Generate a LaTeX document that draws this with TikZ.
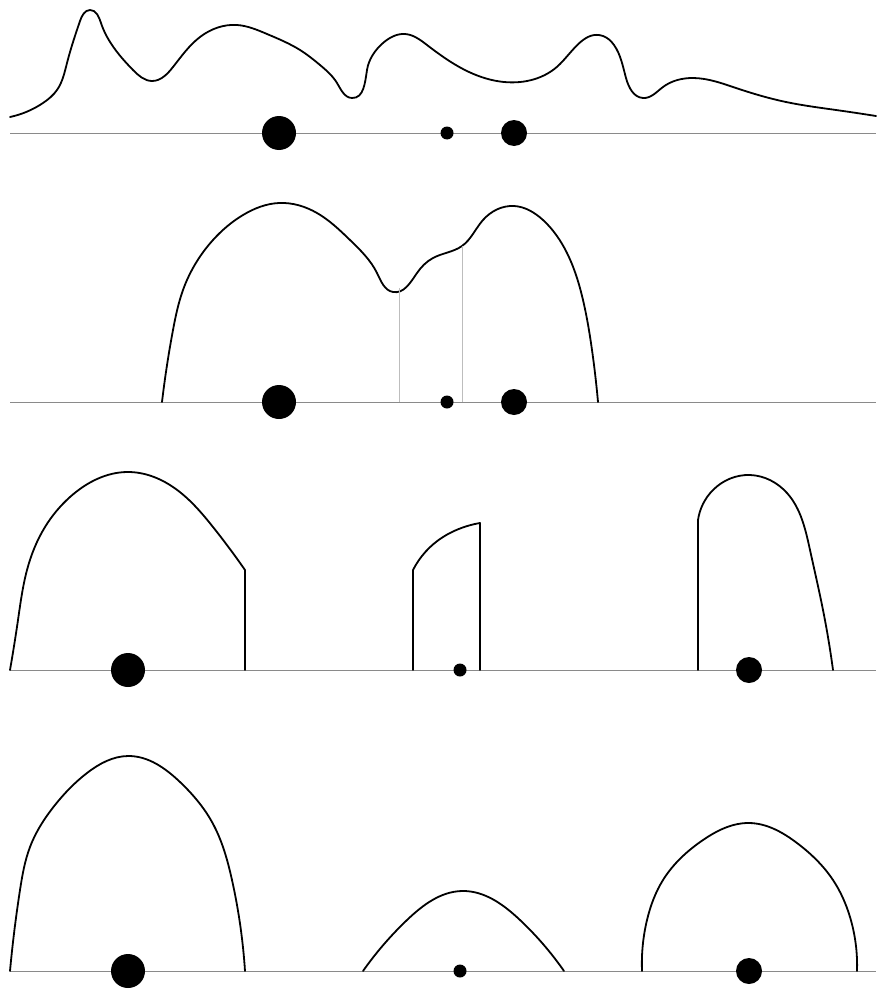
\documentclass[tikz,border=0pt]{standalone}
\usetikzlibrary{positioning,hobby}
\definecolor{ink}     {HTML}{000000}
\definecolor{rulegray}{HTML}{8A8A8A}
\definecolor{guidegray}{HTML}{BDBDBD}
\tikzset{
  % --- lines
  axis/.style  = {draw=rulegray, line width=0.8pt},
  dens/.style  = {draw=ink, line width=1.8pt, line join=round, line cap=round,
                  use Hobby shortcut},
  cut/.style   = {draw=guidegray, line width=0.6pt},
  % --- points
  pt/.style    = {circle, fill=ink, draw=none, inner sep=0pt},
  bigpt/.style = {pt, minimum size=34pt},
  midpt/.style = {pt, minimum size=26pt},
  smlpt/.style = {pt, minimum size=13pt},
}
\begin{document}
\begin{tikzpicture}[x=1pt,y=-1pt]
  \useasboundingbox (0,0) rectangle (876,990);
  % baselines
  \foreach \row/\y in {a/133, b/402, c/670, d/971}
  {
    \coordinate (\row-l) at (10,\y);
    \coordinate (\row-r) at (876,\y);
    \draw[axis] (\row-l) -- (\row-r);
  }
  % row a: full density
  \draw[dens] (10,117) .. (43,103) .. (57,90) .. (67,63) .. (80,21) .. (90,10)
    .. (101,23) .. (112,45) .. (133,70) .. (152,81) .. (173,67) .. (200,37)
    .. (237,25) .. (267,34) .. (300,50) .. (320,65) .. (337,83) .. (352,98)
    .. (367,70) .. (383,43) .. (405,34) .. (427,45) .. (469,72) .. (504,82)
    .. (560,64) .. (603,36) .. (614,45) .. (626,78) .. (643,98)
    .. (663,87) .. (693,78) .. (736,88) .. (786,102) .. (836,110) .. (876,116);
  \node[bigpt] (a1) at (279,133) {};
  \node[smlpt] (a2) at (447,133) {};
  \node[midpt] (a3) at (514,133) {};
  % row b: truncated density with split guides
  \draw[dens] (162,402) .. (173,330) .. (183,290) .. (213,240) .. (243,215)
    .. (279,203) .. (317,213) .. (350,240) .. (377,273) .. (393,292)
    .. (417,273) .. (433,258) .. (462,246) .. (483,220) .. (514,206)
    .. (543,220) .. (567,253) .. (583,300) .. (592,350) .. (598,402);
  \coordinate (b-s1) at (399,288);
  \coordinate (b-s2) at (462,246);
  \draw[cut] (b-s1) -- (b-s1 |- b-l);
  \draw[cut] (b-s2) -- (b-s2 |- b-l);
  \node[bigpt] (b1) at (279,402) {};
  \node[smlpt] (b2) at (447,402) {};
  \node[midpt] (b3) at (514,402) {};
  % row c: split pieces
  \draw[dens] (10,670) .. (18,620) .. (27,570) .. (45,527) .. (70,497)
    .. (128,472) .. (173,487) .. (213,527) .. (245,570) -- (245,670);
  \draw[dens] (413,670) -- (413,570) .. (443,537) .. (452,532) .. (480,523)
    -- (480,670);
  \draw[dens] (698,670) -- (698,520) .. (713,490) .. (750,475) .. (787,493)
    .. (810,550) .. (823,610) .. (833,670);
  \node[bigpt] (c1) at (128,670) {};
  \node[smlpt] (c2) at (460,670) {};
  \node[midpt] (c3) at (749,670) {};
  % row d: smoothed pieces
  \draw[dens] (10,971) .. (20,890) .. (30,847) .. (55,805) .. (87,773)
    .. (128,756) .. (180,782) .. (212,822) .. (232,880) .. (245,971);
  \draw[dens] (363,971) .. (407,920) .. (462,891) .. (520,920) .. (564,971);
  \draw[dens] (642,971) .. (647,920) .. (663,880) .. (703,840) .. (749,823)
    .. (797,843) .. (833,880) .. (850,917) .. (857,971);
  \node[bigpt] (d1) at (128,971) {};
  \node[smlpt] (d2) at (460,971) {};
  \node[midpt] (d3) at (749,971) {};
\end{tikzpicture}
\end{document}
